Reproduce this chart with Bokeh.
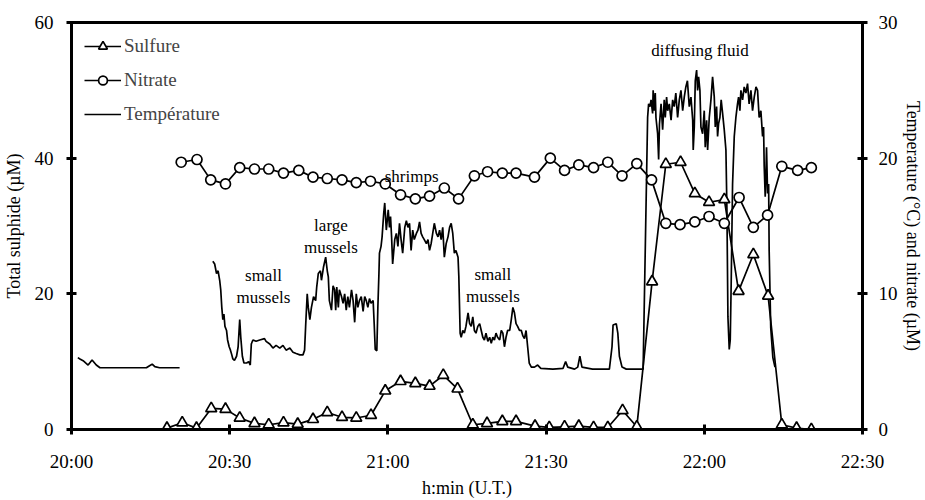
from bokeh.plotting import figure
from bokeh.models import Range1d, LinearAxis, FixedTicker, Label, Legend, LegendItem
from bokeh.embed import file_html
from bokeh.resources import INLINE

# ---------------- data (time in minutes after 20:00) ----------------
x_ticks = [0, 30, 60, 90, 120, 150]
x_tick_labels = ["20:00", "20:30", "21:00", "21:30", "22:00", "22:30"]
left_ticks = [0, 20, 40, 60]
right_ticks = [0, 10, 20, 30]

# Total sulphide (µM), left axis
sulf_t = [18.1, 21.0, 23.7, 26.5, 29.2, 31.9, 34.7, 37.4, 40.2, 42.9, 45.8, 48.5,
          51.3, 54.0, 56.8, 59.5, 62.4, 65.2, 67.9, 70.5, 73.2, 76.1, 78.8, 81.7,
          84.3, 87.9, 90.6, 93.5, 96.2, 99.0, 101.7, 104.5, 107.2, 110.1, 112.7,
          115.5, 118.2, 120.9, 123.8, 126.5, 129.3, 132.1, 134.7, 137.5, 140.3]
sulf_v = [0.2, 1.0, 0.2, 3.1, 3.0, 1.7, 0.9, 0.7, 1.0, 0.8, 1.5, 2.5,
          1.8, 1.7, 2.1, 5.7, 7.1, 6.8, 6.4, 8.0, 6.0, 0.7, 0.9, 1.2,
          1.2, 0.5, 0.3, 0.4, 0.5, 0.3, 0.3, 2.8, 0.4, 21.8, 39.1,
          39.4, 34.8, 33.5, 33.9, 20.4, 25.8, 19.7, 0.7, 0.2, 0.0]

# Nitrate (µM), right axis
nit_t = [20.8, 23.8, 26.4, 29.2, 31.9, 34.7, 37.4, 40.2, 43.1, 45.8, 48.5, 51.3,
         54.0, 56.7, 59.5, 62.4, 65.2, 67.9, 70.7, 73.4, 76.4, 78.9, 81.7, 84.3,
         87.8, 90.8, 93.5, 96.2, 99.0, 101.7, 104.4, 107.2, 110.0, 112.7, 115.4,
         118.2, 120.9, 123.8, 126.6, 129.3, 132.0, 134.7, 137.7, 140.3]
nit_v = [19.7, 19.9, 18.4, 18.1, 19.3, 19.2, 19.2, 18.9, 19.1, 18.6, 18.5, 18.4,
         18.2, 18.3, 18.1, 17.3, 17.0, 17.2, 17.8, 17.0, 18.7, 19.0, 18.9, 18.9,
         18.6, 20.0, 19.1, 19.5, 19.3, 19.7, 18.7, 19.6, 18.4, 15.2, 15.1,
         15.3, 15.7, 15.2, 17.1, 14.9, 15.8, 19.4, 19.1, 19.3]

# Temperature (°C), right axis - first recording segment
temp1_t = [1.2, 1.6, 2.2, 3.15, 3.9, 4.7, 5.4, 8.0, 11.0, 14.2, 14.8, 15.3, 15.8, 16.7, 20.5]
temp1_v = [5.3, 5.2, 5.07, 4.75, 5.12, 4.75, 4.55, 4.55, 4.55, 4.55, 4.7, 4.82, 4.63, 4.55, 4.55]

# Temperature (°C), right axis - second recording segment
temp2_t = [26.8, 27.15, 27.5, 27.8, 28.1, 28.3, 28.5, 28.7, 28.9, 29.1, 29.4, 29.6,
           29.9, 30.1, 30.4, 30.6, 30.9, 31.3, 31.6, 31.9, 32.1, 32.4, 32.7, 33.2,
           33.6, 33.9, 34.1, 34.4, 35.0, 35.7, 36.6, 36.9, 37.6, 38.2, 38.8, 39.5,
           40.1, 40.7, 41.4, 42.0, 42.6, 43.3, 43.9, 44.2, 44.4, 44.7, 44.9, 45.2,
           45.5, 45.9, 46.3, 46.5, 46.8, 47.2, 47.4, 47.8, 48.2, 48.5, 48.7, 48.9,
           49.3, 49.6, 49.9, 50.1, 50.3, 50.6, 50.8, 51.2, 51.5, 51.8, 52.1, 52.4,
           52.7, 53.1, 53.4, 53.7, 54.0, 54.3, 54.6, 54.95, 55.3, 55.6, 55.9, 56.2,
           56.5, 56.8, 57.2, 57.4, 57.6, 57.9, 58.1, 58.3, 58.4, 58.7, 58.9, 59.2,
           59.4, 59.55, 59.7, 59.87, 60.06, 60.3, 60.5, 60.7, 60.9, 61.3, 61.6, 61.9,
           62.2, 62.5, 62.8, 63.2, 63.5, 63.8, 64.1, 64.4, 64.7, 65.0, 65.4, 65.7,
           66.0, 66.3, 66.6, 66.9, 67.3, 67.6, 67.9, 68.2, 68.5, 68.8, 69.2, 69.5,
           69.8, 70.1, 70.4, 70.7, 71.05, 71.4, 71.7, 72.0, 72.3, 72.6, 72.9, 73.3,
           73.45, 73.7, 73.9, 74.2, 74.5, 74.8, 75.2, 75.5, 75.8, 76.1, 76.4, 76.7,
           77.05, 77.4, 77.7, 78.0, 78.3, 78.6, 78.95, 79.3, 79.6, 79.9, 80.2, 80.5,
           80.8, 81.2, 81.5, 81.8, 82.1, 82.4, 82.7, 83.1, 83.4, 83.7, 84.0, 84.3,
           84.6, 84.95, 85.3, 85.6, 85.9, 86.2, 86.5, 86.8, 87.2, 87.8, 88.4, 89.0,
           91.3, 93.2, 93.7, 94.1, 95.4, 96.0, 96.4, 96.8, 98.8, 102.0, 102.5, 102.7,
           103.3, 103.6, 103.9, 104.4, 105.2, 108.4, 109.25, 109.44, 109.7, 109.9, 110.2, 110.3,
           110.5, 110.7, 110.83, 111.15, 111.34, 111.5, 111.8, 112.1, 112.4, 112.6, 112.85, 113.05,
           113.36, 113.7, 114.0, 114.3, 114.6, 114.94, 115.26, 115.57, 115.9, 116.2, 116.5, 116.8,
           117.15, 117.47, 117.8, 117.9, 118.1, 118.29, 118.54, 118.73, 118.92, 119.17, 119.36, 119.68,
           119.99, 120.18, 120.44, 120.63, 120.94, 121.26, 121.57, 121.89, 122.08, 122.33, 122.52, 122.71,
           122.96, 123.2, 123.47, 123.78, 124.1, 124.29, 124.48, 124.73, 124.92, 125.1, 125.36, 125.68,
           125.99, 126.3, 126.5, 126.75, 126.94, 127.26, 127.57, 127.89, 128.2, 128.5, 128.84, 129.15,
           129.47, 129.8, 130.1, 130.4, 130.73, 131.05, 131.24, 131.36, 131.55, 131.68, 131.8, 132.0,
           132.2, 132.3, 132.6, 133.0, 133.4]
temp2_v = [12.4, 12.2, 11.5, 11.7, 11.0, 10.3, 9.0, 8.1, 8.5, 7.6, 7.3, 6.6,
           6.1, 5.9, 5.5, 5.2, 5.1, 5.4, 6.1, 8.1, 6.8, 5.4, 4.9, 4.9,
           5.0, 4.75, 6.3, 6.6, 6.5, 6.6, 6.7, 6.5, 6.3, 6.0, 6.2, 6.0,
           6.2, 5.85, 6.0, 5.7, 5.6, 5.5, 5.5, 5.85, 7.6, 10.0, 9.0, 8.1,
           9.0, 9.8, 9.5, 10.5, 11.5, 11.7, 11.0, 12.0, 12.7, 11.7, 11.25, 9.5,
           8.8, 10.6, 10.3, 8.8, 10.5, 9.0, 10.3, 9.8, 9.3, 10.0, 8.8, 9.8,
           9.0, 10.3, 9.5, 7.9, 10.0, 9.0, 9.5, 9.8, 8.7, 9.8, 9.5, 9.0,
           9.65, 9.3, 9.5, 7.8, 5.9, 5.8, 9.05, 11.5, 13.0, 13.5, 14.2, 15.9,
           16.7, 15.7, 14.7, 15.4, 16.2, 14.9, 15.7, 14.2, 12.2, 14.0, 14.45, 13.5,
           15.2, 14.0, 13.0, 14.9, 15.4, 14.9, 15.2, 13.2, 14.7, 14.0, 14.45, 14.7,
           15.3, 14.45, 14.2, 14.0, 13.7, 14.0, 13.2, 13.7, 14.45, 15.2, 14.45, 14.2,
           14.7, 14.0, 14.9, 12.7, 13.7, 14.2, 14.9, 15.2, 14.45, 13.0, 13.2, 12.7,
           11.3, 7.1, 6.8, 7.3, 7.1, 7.6, 8.6, 7.8, 7.6, 8.3, 7.3, 7.1,
           7.6, 7.8, 7.3, 6.8, 6.6, 7.1, 6.5, 6.8, 6.35, 6.8, 6.6, 7.1,
           6.8, 6.6, 7.3, 7.1, 6.1, 6.8, 7.3, 7.3, 8.1, 9.0, 8.6, 7.8,
           7.6, 7.3, 7.3, 6.9, 6.7, 7.3, 6.1, 4.9, 4.6, 4.6, 4.75, 4.5,
           4.45, 4.5, 5.0, 4.6, 4.45, 4.6, 5.4, 4.6, 4.45, 4.45, 6.1, 7.7,
           7.8, 7.1, 5.4, 4.6, 4.45, 4.45, 23.0, 24.0, 23.8, 24.3, 23.3, 25.0,
           23.5, 24.8, 23.0, 21.8, 19.9, 22.5, 24.0, 22.1, 24.3, 23.0, 24.5, 23.5,
           24.0, 22.8, 24.3, 23.8, 24.8, 23.0, 24.3, 25.0, 23.5, 24.5, 25.25, 25.7,
           23.8, 24.5, 22.8, 20.6, 22.3, 25.7, 26.5, 25.0, 26.0, 25.0, 22.3, 21.8,
           23.5, 20.8, 22.8, 20.6, 23.0, 24.3, 26.0, 24.5, 22.3, 23.8, 21.6, 22.55,
           23.0, 24.3, 23.3, 22.1, 20.6, 16.2, 8.3, 5.9, 6.6, 10.8, 18.1, 21.6,
           23.0, 24.0, 24.5, 23.5, 25.0, 24.3, 25.25, 24.8, 25.5, 24.0, 25.0, 23.5,
           24.5, 25.25, 25.0, 23.0, 23.5, 21.6, 22.3, 19.4, 17.15, 18.6, 20.8, 17.4,
           18.1, 13.2, 7.5, 5.3, 4.6]

annotations = [("small", 36.4, 22.75), ("mussels", 36.4, 19.5),
               ("large", 49.2, 30.1), ("mussels", 49.2, 26.9),
               ("shrimps", 64.5, 37.3),
               ("small", 79.9, 22.9), ("mussels", 79.9, 19.6),
               ("diffusing fluid", 119.2, 55.9)]

FONT = "Liberation Serif"

p = figure(width=925, height=500, output_backend="svg", toolbar_location=None,
           x_range=Range1d(0, 150), y_range=Range1d(0, 60),
           min_border_left=71, min_border_right=63, min_border_top=22,
           min_border_bottom=70)
p.extra_y_ranges = {"right": Range1d(0, 30)}
p.xgrid.visible = False
p.ygrid.visible = False
p.outline_line_color = "black"
p.outline_line_width = 3
p.background_fill_color = "white"
p.border_fill_color = "white"

# temperature
t1 = p.line(temp1_t, temp1_v, y_range_name="right", line_color="black", line_width=1.7)
t2 = p.line(temp2_t, temp2_v, y_range_name="right", line_color="black", line_width=1.7)

# sulphide
sl = p.line(sulf_t, sulf_v, line_color="black", line_width=1.7)
ss = p.scatter(sulf_t, sulf_v, marker="triangle", size=11, fill_color="white",
               line_color="black", line_width=1.7)

# nitrate
nl = p.line(nit_t, nit_v, y_range_name="right", line_color="black", line_width=1.7)
ns = p.scatter(nit_t, nit_v, y_range_name="right", marker="circle", size=10,
               fill_color="white", line_color="black", line_width=1.7)

def style_axis(ax):
    ax.axis_line_width = 3
    ax.axis_line_color = "black"
    ax.major_tick_line_width = 3
    ax.major_tick_line_color = "black"
    ax.major_tick_in = 5
    ax.major_tick_out = 5
    ax.minor_tick_line_color = None
    ax.major_label_text_font = FONT
    ax.major_label_text_font_size = "19px"
    ax.major_label_text_color = "black"
    ax.axis_label_text_font = FONT
    ax.axis_label_text_font_size = "18px"
    ax.axis_label_text_font_style = "normal"
    ax.axis_label_text_color = "black"

xa = p.xaxis[0]
xa.ticker = FixedTicker(ticks=x_ticks)
xa.major_label_overrides = {t: l for t, l in zip(x_ticks, x_tick_labels)}
xa.axis_label = "h:min (U.T.)"
style_axis(xa)
xa.major_label_standoff = 16
xa.axis_label_standoff = 3

ya = p.yaxis[0]
ya.ticker = FixedTicker(ticks=left_ticks)
ya.axis_label = "Total sulphide (µM)"
style_axis(ya)
ya.major_label_standoff = 13
ya.axis_label_standoff = 8

ra = LinearAxis(y_range_name="right", ticker=FixedTicker(ticks=right_ticks),
                axis_label="Temperature (°C) and nitrate (µM)")
style_axis(ra)
ra.major_label_standoff = 11
ra.axis_label_standoff = 2
p.add_layout(ra, "right")

for txt, tx, ty in annotations:
    p.add_layout(Label(x=tx, y=ty, text=txt, text_align="center", text_baseline="middle",
                       text_font=FONT, text_font_size="17px", text_color="black"))

legend = Legend(items=[LegendItem(label="Sulfure", renderers=[sl, ss]),
                       LegendItem(label="Nitrate", renderers=[nl, ns]),
                       LegendItem(label="Température", renderers=[t1])],
                location="top_left", margin=13, padding=10, spacing=12,
                glyph_width=37, glyph_height=22, label_height=22, label_standoff=3,
                label_text_font=FONT, label_text_font_size="19px",
                background_fill_alpha=0, border_line_color=None)
p.add_layout(legend)

open("out.html", "w").write(file_html(p, INLINE))
